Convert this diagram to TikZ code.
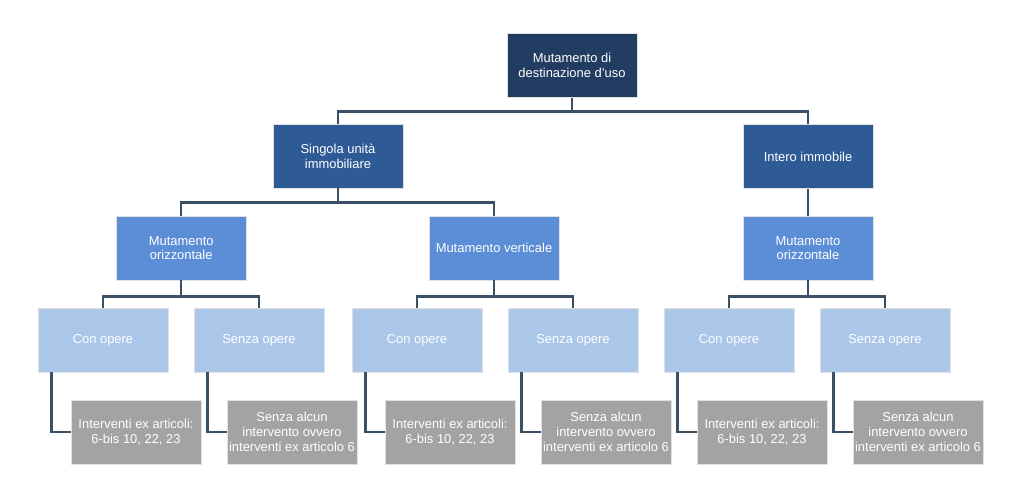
\documentclass[tikz,border=0pt]{standalone}
\usepackage{fontspec}
\setmainfont{Liberation Sans}

\definecolor{navy}{HTML}{223D61}
\definecolor{medio}{HTML}{2E5A96}
\definecolor{chiaro}{HTML}{5B8ED6}
\definecolor{pallido}{HTML}{AAC7EA}
\definecolor{grigio}{HTML}{A3A3A3}
\definecolor{linea}{HTML}{3B5064}

\begin{document}
\begin{tikzpicture}[
  box/.style={draw=black!12, line width=0.6pt, minimum width=3.25cm, minimum height=1.6cm,
    inner sep=1pt, text=white, align=center, font=\fontsize{9.2}{10.5}\selectfont},
  link/.style={draw=linea, line width=1.8pt}]
  \useasboundingbox (0,0) rectangle (25.75,-12.225);

  % Radice
  \node[box, fill=navy] (radice) at (14.3,-1.63) {Mutamento di\\destinazione d'uso};
  \node[box, fill=medio] (singola) at (8.45,-3.9) {Singola unità\\immobiliare};
  \node[box, fill=medio] (intero) at (20.2,-3.92) {Intero immobile};
  \draw[link] (radice.south) -- ++(0,-0.35) -| (singola.north);
  \draw[link] (radice.south) -- ++(0,-0.35) -| (intero.north);

  % Secondo livello
  \node[box, fill=chiaro] (oriz1) at (4.53,-6.2) {Mutamento\\orizzontale};
  \node[box, fill=chiaro] (vert) at (12.35,-6.2) {Mutamento verticale};
  \node[box, fill=chiaro] (oriz2) at (20.2,-6.2) {Mutamento\\orizzontale};
  \draw[link] (singola.south) -- ++(0,-0.35) -| (oriz1.north);
  \draw[link] (singola.south) -- ++(0,-0.35) -| (vert.north);
  \draw[link] (intero) -- (oriz2);

  % Con / senza opere
  \foreach \p/\n/\x in {oriz1/a/2.575, vert/b/10.425, oriz2/c/18.225} {
    \node[box, fill=pallido] (con\n) at (\x,-8.5) {Con opere};
    \node[box, fill=pallido] (senza\n) at (\x+3.9,-8.5) {Senza opere};
    \node[box, fill=grigio] (int\n) at (\x+0.825,-10.8) {Interventi ex articoli:\\6-bis 10, 22, 23};
    \node[box, fill=grigio] (nessun\n) at (\x+4.725,-10.8) {Senza alcun\\intervento ovvero\\interventi ex articolo 6};
    \draw[link] (\p.south) -- ++(0,-0.4) -| (con\n.north);
    \draw[link] (\p.south) -- ++(0,-0.4) -| (senza\n.north);
    \draw[link] ([xshift=0.35cm]con\n.south west) |- (int\n.west);
    \draw[link] ([xshift=0.35cm]senza\n.south west) |- (nessun\n.west);
  }
\end{tikzpicture}
\end{document}
